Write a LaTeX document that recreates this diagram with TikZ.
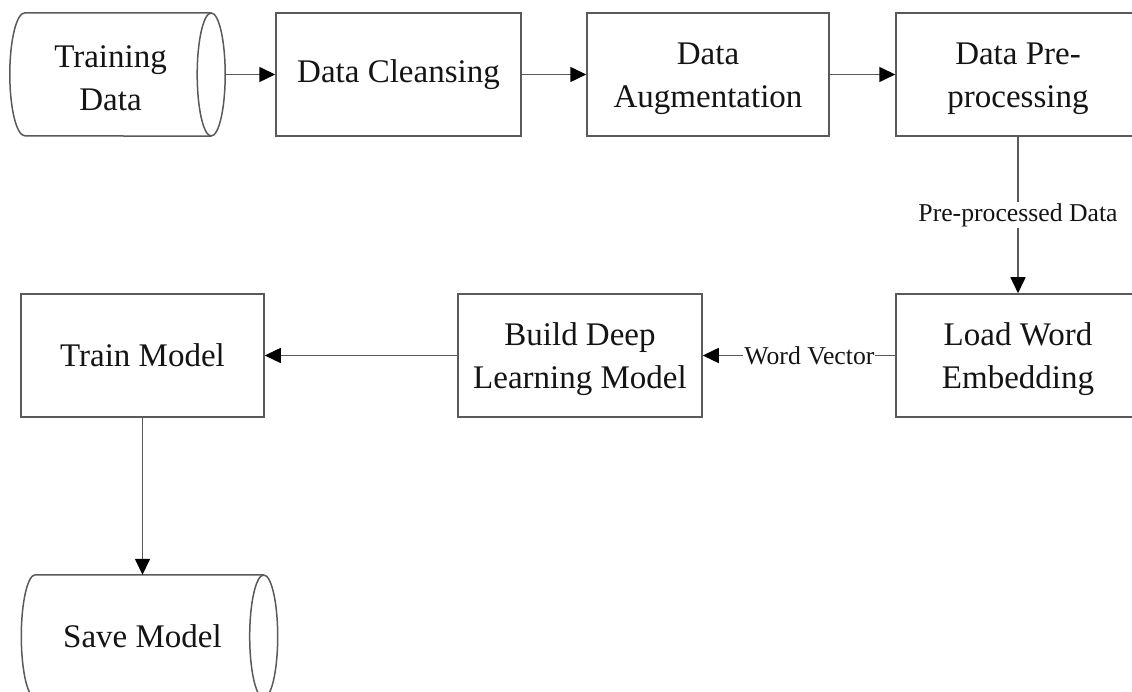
\documentclass[tikz,border=0pt]{standalone}
\usepackage{fontspec}
\setmainfont{Liberation Serif}
\usetikzlibrary{arrows.meta}
\definecolor{linegray}{HTML}{5A5A5A}
\definecolor{txtblack}{HTML}{141414}
\newcommand{\boxfont}{\fontsize{33}{43}\selectfont}
\newcommand{\lblfont}{\fontsize{25.7}{30}\selectfont}
\newcommand{\mystrut}{\rule{0pt}{30pt}}
\begin{document}
\begin{tikzpicture}[x=1pt,y=1pt,
  ln/.style={draw=linegray, line width=1.5pt},
  box/.style={ln, rectangle, minimum height=123pt, align=center, font=\boxfont, text=txtblack, inner sep=0pt},
  txt/.style={rectangle, minimum height=123pt, align=center, font=\boxfont, text=txtblack, inner sep=0pt},
  lbl/.style={fill=white, font=\lblfont, text=txtblack, inner sep=1pt},
  arr/.style={ln, -{Triangle[length=16pt,width=15pt,color=black]}}]
\useasboundingbox (0,0) rectangle (1132,692);
\clip (0,0) rectangle (1132,692);
\fill[white] (0,0) rectangle (1132,692);

% top row
\node[txt, minimum width=201pt] (td) at (110.5,617.5) {\mystrut Training\\Data};
\node[box, minimum width=245pt] (dc) at (398.5,617.5) {Data Cleansing};
\node[box, minimum width=242pt] (da) at (708,617.5) {\mystrut Data\\Augmentation};
\node[box, minimum width=244pt] (dp) at (1018,617.5) {\mystrut Data Pre-\\processing};
% middle row
\node[box, minimum width=244pt] (lw) at (1018,336.5) {\mystrut Load Word\\Embedding};
\node[box, minimum width=244pt] (bd) at (580,336.5) {\mystrut Build Deep\\Learning Model};
\node[box, minimum width=243pt] (tm) at (142.5,336.5) {Train Model};
% bottom
\node[txt, minimum width=242pt] (sm) at (142.5,55.5) {Save Model};

% cylinder outlines
\draw[ln] (td.north east) -- ([xshift=15pt]td.north west)
  arc[start angle=90, end angle=270, x radius=15pt, y radius=61.5pt]
  -- (td.south east);
\draw[ln] (td.east) ellipse[x radius=14pt, y radius=61.5pt];

\draw[ln] (sm.north east) -- ([xshift=14pt]sm.north west)
  arc[start angle=90, end angle=270, x radius=14pt, y radius=61.5pt]
  -- (sm.south east);
\draw[ln] (sm.east) ellipse[x radius=14pt, y radius=61.5pt];

% connectors
\draw[arr] ([xshift=14pt]td.east) -- (dc.west);
\draw[arr] (dc) -- (da);
\draw[arr] (da) -- (dp);
\draw[arr] (dp) -- node[lbl] {Pre-processed Data} (lw);
\draw[arr] (lw) -- node[lbl, pos=0.446] {Word Vector} (bd);
\draw[arr] (bd) -- (tm);
\draw[arr] (tm.south) -- (tm.south |- sm.north);
\end{tikzpicture}
\end{document}
